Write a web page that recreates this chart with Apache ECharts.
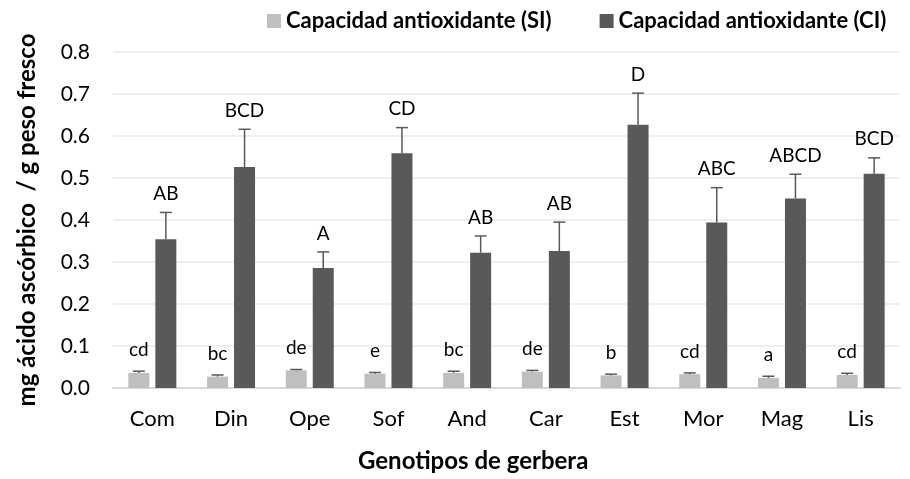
<!DOCTYPE html>
<html>
<head>
<meta charset="utf-8">
<script src="https://cdn.jsdelivr.net/npm/echarts@6/dist/echarts.min.js"></script>
<style>
  html, body { margin: 0; padding: 0; background: #fff; }
  #chart { width: 910px; height: 479px; }
</style>
</head>
<body>
<div id="chart"></div>
<script>
// genotipos
const categories = ['Com', 'Din', 'Ope', 'Sof', 'And', 'Car', 'Est', 'Mor', 'Mag', 'Lis']
// capacidad antioxidante (SI)
const siValues = [0.036, 0.027, 0.042, 0.034, 0.036, 0.039, 0.030, 0.033, 0.024, 0.031]
const siErrors = [0.004, 0.004, 0.002, 0.003, 0.004, 0.003, 0.003, 0.003, 0.004, 0.004]
const siLetters = ['cd', 'bc', 'de', 'e', 'bc', 'de', 'b', 'cd', 'a', 'cd']
// capacidad antioxidante (CI)
const ciValues = [0.354, 0.526, 0.286, 0.559, 0.322, 0.326, 0.627, 0.394, 0.451, 0.510]
const ciErrors = [0.064, 0.090, 0.038, 0.061, 0.040, 0.069, 0.075, 0.083, 0.058, 0.038]
const ciLetters = ['AB', 'BCD', 'A', 'CD', 'AB', 'AB', 'D', 'ABC', 'ABCD', 'BCD']
const yTicks = ['0.0', '0.1', '0.2', '0.3', '0.4', '0.5', '0.6', '0.7', '0.8']

const FONT = 'Lato, "Open Sans", sans-serif'
const BAR_W = 21
const BAR_GAP = 6
const SHIFT = (BAR_W + BAR_GAP) / 2

const chart = echarts.init(document.getElementById('chart'))

// barras de error + letras
function errorRender (side, letterGap) {
  return function (params, api) {
    const idx = api.value(0)
    const top = api.value(1) + api.value(2)
    const base = api.coord([idx, api.value(1)])
    const cap = api.coord([idx, top])
    const x = base[0] + side * SHIFT
    return {
      type: 'group',
      children: [
        { type: 'line', shape: { x1: x, y1: base[1], x2: x, y2: cap[1] }, style: { stroke: '#595959', lineWidth: 1.5 } },
        { type: 'line', shape: { x1: x - 6, y1: cap[1], x2: x + 6, y2: cap[1] }, style: { stroke: '#595959', lineWidth: 1.5 } },
        {
          type: 'text',
          style: {
            text: api.value(3),
            x: x,
            y: cap[1] - letterGap,
            align: 'center',
            verticalAlign: 'bottom',
            font: '19px ' + FONT,
            fill: '#000'
          }
        }
      ]
    }
  }
}

const option = {
  animation: false,
  textStyle: { fontFamily: FONT },
  legend: {
    top: 5,
    left: 262,
    itemWidth: 14,
    itemHeight: 14,
    itemGap: 48,
    icon: 'rect',
    textStyle: { fontSize: 22, fontWeight: 'bold', color: '#000', fontFamily: FONT },
    data: ['Capacidad antioxidante (SI)', 'Capacidad antioxidante (CI)']
  },
  grid: { left: 113, right: 10, top: 52, bottom: 91 },
  xAxis: {
    type: 'category',
    data: categories,
    axisTick: { show: false },
    axisLine: { lineStyle: { color: '#D9D9D9', width: 2 } },
    axisLabel: { fontSize: 22, color: '#000', margin: 20, fontFamily: FONT }
  },
  yAxis: {
    type: 'value',
    min: 0,
    max: 0.8,
    interval: 0.1,
    name: 'mg ácido ascórbico  / g peso fresco',
    nameLocation: 'middle',
    nameGap: 74,
    nameTextStyle: { fontSize: 24, fontWeight: 'bold', color: '#000', fontFamily: FONT },
    axisLine: { show: false },
    axisTick: { show: false },
    axisLabel: {
      fontSize: 21,
      color: '#000',
      margin: 23,
      fontFamily: FONT,
      formatter: v => yTicks[Math.round(v * 10)]
    },
    splitLine: { lineStyle: { color: '#EFEFEF', width: 2 } }
  },
  graphic: [
    {
      type: 'text',
      left: 358,
      top: 449,
      style: { text: 'Genotipos de gerbera', font: 'bold 24px ' + FONT, fill: '#000' }
    }
  ],
  series: [
    {
      name: 'Capacidad antioxidante (SI)',
      type: 'bar',
      barWidth: BAR_W,
      barGap: (BAR_GAP / BAR_W * 100) + '%',
      itemStyle: { color: '#BFBFBF' },
      data: siValues
    },
    {
      name: 'Capacidad antioxidante (CI)',
      type: 'bar',
      barWidth: BAR_W,
      itemStyle: { color: '#595959' },
      data: ciValues
    },
    {
      type: 'custom',
      renderItem: errorRender(-1, 12),
      encode: { x: 0, y: 1 },
      z: 10,
      data: siValues.map((v, i) => [i, v, siErrors[i], siLetters[i]])
    },
    {
      type: 'custom',
      renderItem: errorRender(1, 9),
      encode: { x: 0, y: 1 },
      z: 10,
      data: ciValues.map((v, i) => [i, v, ciErrors[i], ciLetters[i]])
    }
  ]
}

chart.setOption(option)
</script>
</body>
</html>
